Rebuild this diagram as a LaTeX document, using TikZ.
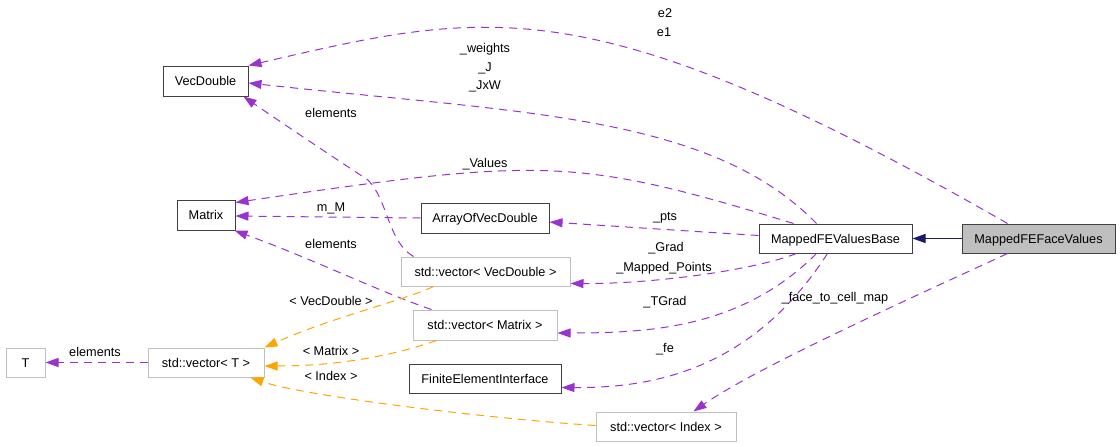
\documentclass[tikz,border=0pt]{standalone}
\usepackage{fontspec}
\setmainfont{Liberation Sans}
\usetikzlibrary{arrows.meta,calc}
\definecolor{purp}{HTML}{9A32CD}
\definecolor{orng}{HTML}{FFA500}
\definecolor{navy}{HTML}{191970}
\definecolor{nodeblack}{HTML}{404040}
\definecolor{greyb}{HTML}{BFBFBF}
\newcommand{\lblfont}{\fontsize{12.7}{15}\selectfont}
\tikzset{
  cls/.style={draw=nodeblack, line width=1pt, minimum height=29pt, inner sep=0pt,
    text height=9.3pt, text depth=0.2pt, font=\lblfont, rectangle},
  ext/.style={cls, draw=greyb},
  tipp/.style={-{Triangle[length=13pt,width=9pt]}},
  dep/.style={tipp, draw=purp, fill=none, line width=1pt, dash pattern=on 8pt off 6pt},
  tmpl/.style={tipp, draw=orng, line width=1pt, dash pattern=on 8pt off 6pt},
  inh/.style={tipp, draw=navy, line width=1pt},
  lab/.style={anchor=base, inner sep=0pt, font=\lblfont},
}
\begin{document}
\begin{tikzpicture}[x=1pt,y=-1pt]
\useasboundingbox (0,0) rectangle (1120,447);
% nodes
\node[cls, minimum width=85pt, minimum height=30pt] (vd) at (205.5,81) {VecDouble};
\node[cls, minimum width=58pt, minimum height=30pt] (mat) at (206,215) {Matrix};
\node[cls, minimum width=128pt, minimum height=30pt] (avd) at (485,218) {ArrayOfVecDouble};
\node[cls, minimum width=153pt] (base) at (835.5,238.5) {MappedFEValuesBase};
\node[cls, minimum width=153pt, fill=greyb] (face) at (1038.5,238.5) {MappedFEFaceValues};
\node[ext, minimum width=169pt] (vvd) at (485.5,271.5) {std::vector< VecDouble >};
\node[ext, minimum width=144pt, minimum height=30pt] (vm) at (485,325) {std::vector< Matrix >};
\node[cls, minimum width=152pt] (fei) at (485,378.5) {FiniteElementInterface};
\node[ext, minimum width=140pt] (vidx) at (666,426.5) {std::vector< Index >};
\node[ext, minimum width=39pt] (T) at (25.5,362.5) {T};
\node[ext, minimum width=116pt] (vt) at (206,362.5) {std::vector< T >};
% edges
\draw[dep] ($(face.north west)+(46,0)$) .. controls (590,-16) and (488,10) .. (vd.north east);
\draw[dep] ($(base.north west)+(58,0)$) .. controls (709.5,114) and (520,113) .. ($(vd.east)+(0,2)$);
\draw[dep] ($(base.north west)+(35,0)$) .. controls (574,156) and (540,158) .. ($(mat.north east)+(0,3)$);
\draw[dep] (avd.west) -- ($(mat.east)+(0,1)$);
\draw[dep] ($(base.west)+(0,-3)$) -- ($(avd.east)+(0,4)$);
\draw[dep] ($(vvd.north west)+(13,0)$) .. controls (388,242) and (388,200) .. (368,180)
   .. controls (330,155) and (285,125) .. ($(vd.south east)+(-5,0)$);
\draw[dep] ($(vm.north west)+(19,0)$) .. controls (380,292) and (320,262) .. ($(mat.south east)+(-1,0)$);
\draw[dep] ($(base.south west)+(38,0)$) .. controls (751,271) and (650,284) .. ($(vvd.east)+(0,12)$);
\draw[dep] ($(base.south west)+(58,0)$) .. controls (742,328) and (650,333) .. ($(vm.east)+(0,8)$);
\draw[dep] ($(base.south west)+(69,0)$) .. controls (751,372) and (650,388) .. ($(fei.east)+(0,9)$);
\draw[dep] ($(face.south west)+(46,0)$) .. controls (940,285) and (760,365) .. ($(vidx.north west)+(98,0)$);
\draw[inh] (face.west) -- (base.east);
\draw[tmpl] ($(vvd.south west)+(33,0)$) .. controls (405,300) and (330,318) .. (vt.north east);
\draw[tmpl] ($(vm.south west)+(24,0)$) .. controls (395,355) and (340,366) .. ($(vt.east)+(0,3.5)$);
\draw[tmpl] ($(vidx.west)+(0,-1)$) .. controls (480,418) and (300,395) .. ($(vt.south east)+(-14,0)$);
\draw[dep] (vt.west) -- (T.east);
% labels
\node[lab] (l1) at (665,17.5) {e2};
\node[lab] (l2) at (664,36.5) {e1};
\node[lab] (l3) at (485,52.5) {\_weights};
\node[lab] (l4) at (485,71.5) {\_J};
\node[lab] (l5) at (485,89.5) {\_JxW};
\node[lab] (l6) at (331,117.5) {elements};
\node[lab] (l7) at (485,167.5) {\_Values};
\node[lab] (l8) at (331,211.5) {m\_M};
\node[lab] (l9) at (665,220.5) {\_pts};
\node[lab] (l10) at (331,248.5) {elements};
\node[lab] (l11) at (666,251.5) {\_Grad};
\node[lab] (l12) at (664,271.5) {\_Mapped\_Points};
\node[lab] (l13) at (665,305.5) {\_TGrad};
\node[lab] (l14) at (835,301.5) {\_face\_to\_cell\_map};
\node[lab] (l15) at (331,305.5) {< VecDouble >};
\node[lab] (l16) at (665,352.5) {\_fe};
\node[lab] (l17) at (95,356.5) {elements};
\node[lab] (l18) at (331,355.5) {< Matrix >};
\node[lab] (l19) at (331,380.5) {< Index >};
\end{tikzpicture}
\end{document}
